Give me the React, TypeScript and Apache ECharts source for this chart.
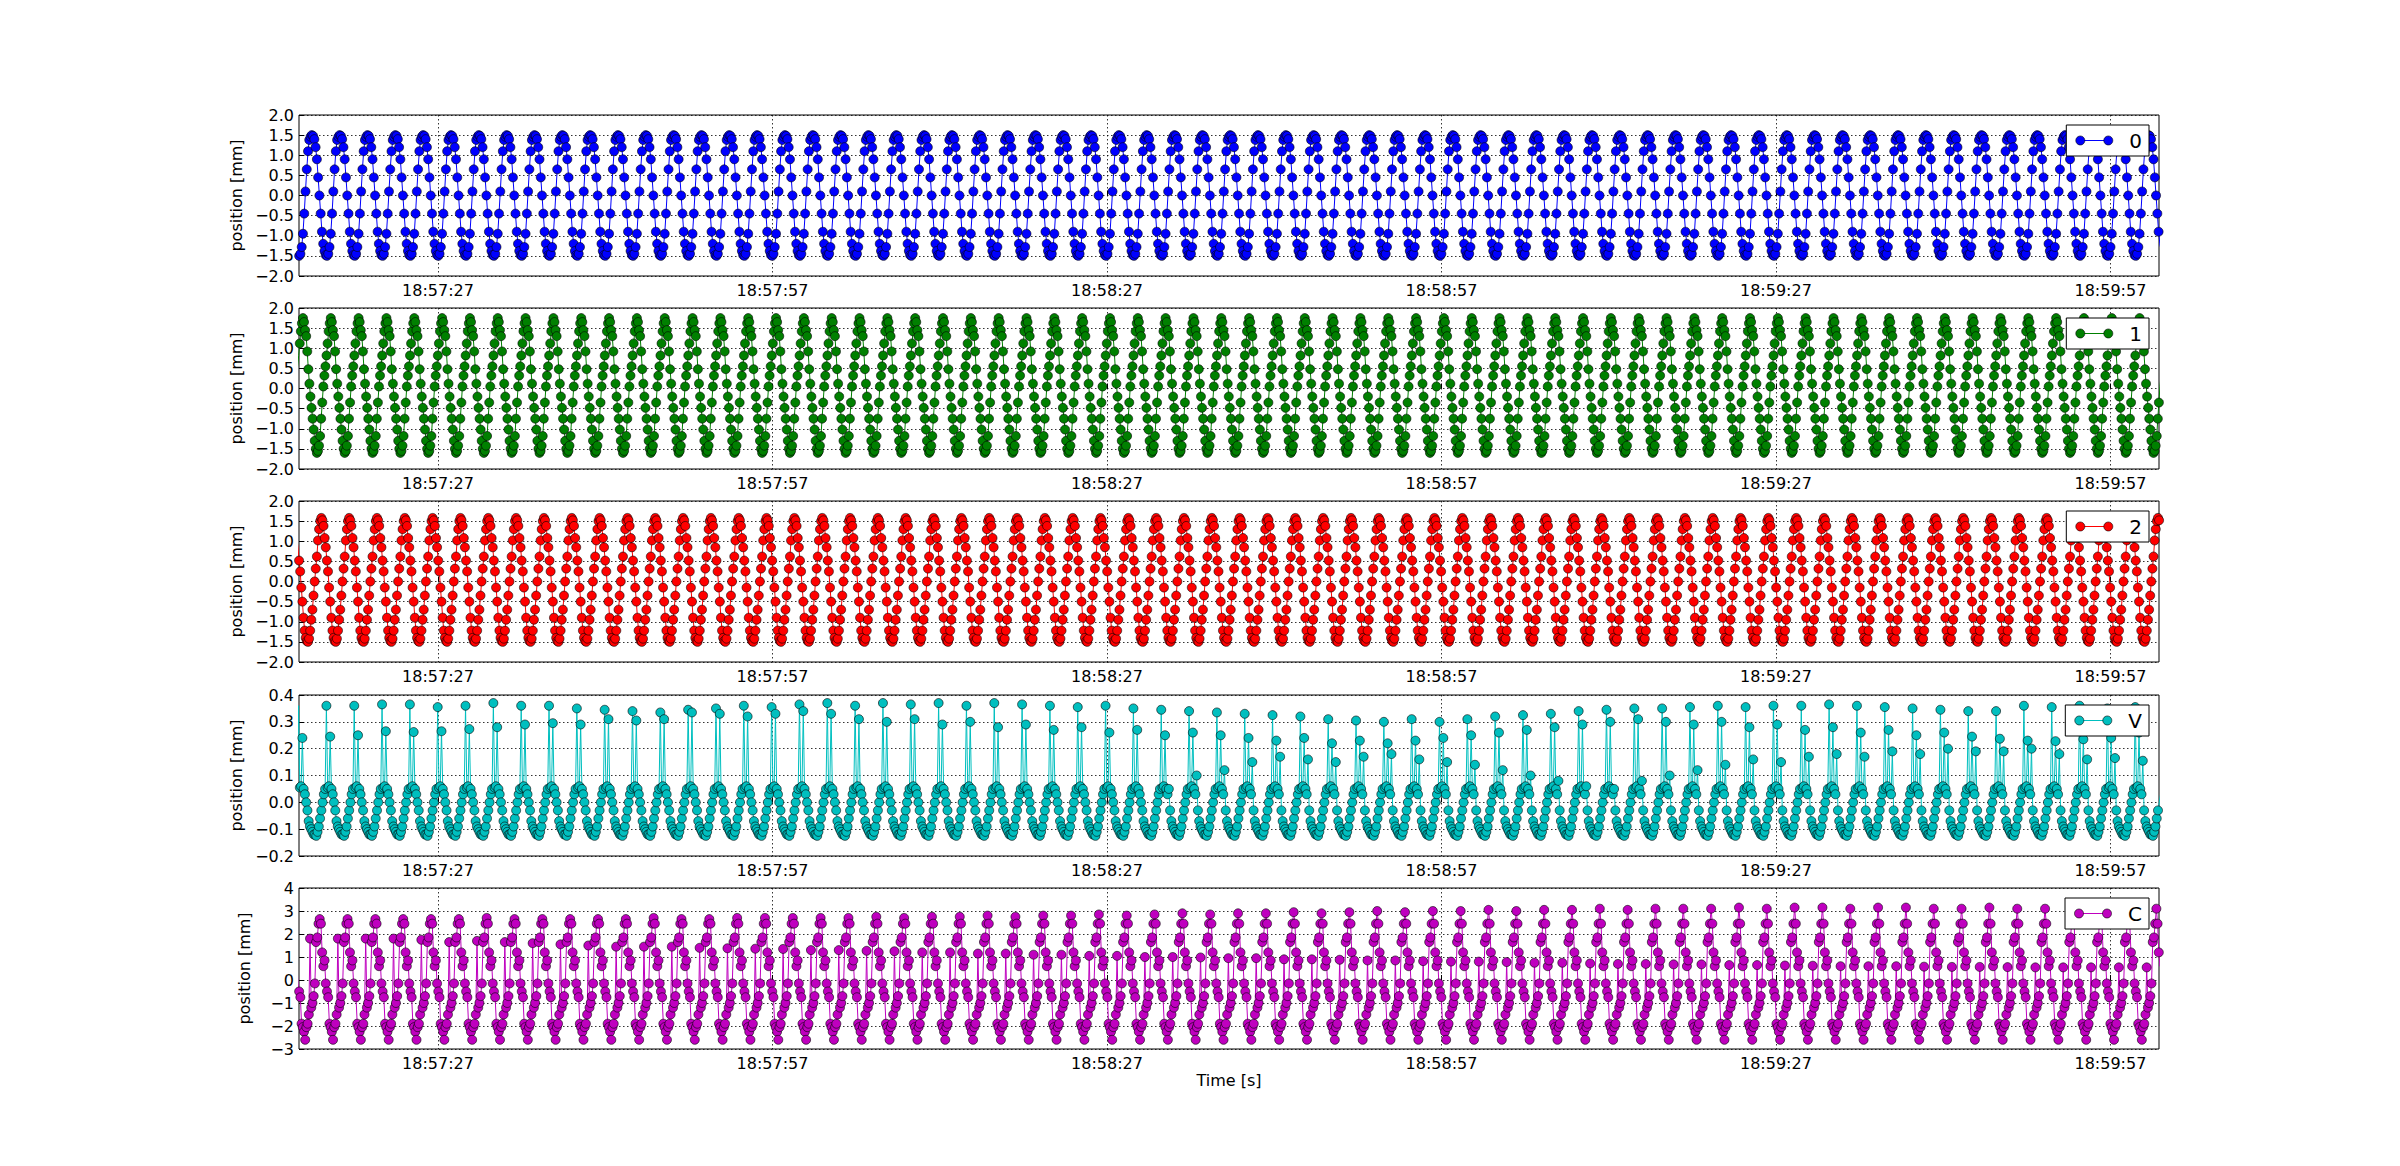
import React, { useEffect, useRef } from "react";
import * as echarts from "echarts";

// ---- axis / time (seconds since midnight) ----
const X_MIN = 68234.53; // 18:57:14.53
const X_MAX = 68401.36; // 19:00:01.36
const X_TICKS = [68247, 68277, 68307, 68337, 68367, 68397];
const PERIOD = 2.496; // seconds per oscillation cycle

const NAMES = ["0", "1", "2", "V", "C"];
const COLORS = ["#0000ff", "#008000", "#ff0000", "#00bfbf", "#bf00bf"];
const Y_MIN = [-2, -2, -2, -0.2, -3];
const Y_MAX = [2, 2, 2, 0.4, 4];
const Y_STEP = [0.5, 0.5, 0.5, 0.1, 1];
const Y_DEC = [1, 1, 1, 1, 0];

// ---- one cycle of samples (mm) ----
const cycle0 = [1.46, 1.5, 1.48, 1.4, 1.2, 0.9, 0.45, 0.0, -0.45, -0.9, -1.2, -1.38, -1.48, -1.5, -1.45, -1.28, -0.95, -0.45, 0.1, 0.65, 1.1, 1.38];
const start0 = 68233.07;
const cycle1 = [1.75, 1.65, 1.45, 1.3, 0.92, 0.48, 0.12, -0.2, -0.48, -0.75, -1.02, -1.3, -1.5, -1.6, -1.55, -1.42, -1.18, -0.75, -0.35, 0.05, 0.32, 0.55, 0.82, 1.12, 1.42, 1.62];
const start1 = 68232.39;
const cycle2 = [1.58, 1.52, 1.38, 1.08, 0.85, 0.52, 0.25, -0.15, -0.5, -0.9, -1.22, -1.4, -1.48, -1.5, -1.42, -1.22, -0.95, -0.7, -0.35, 0.0, 0.32, 0.62, 1.02, 1.3, 1.5];
const start2 = 68231.54;
// V: null slots are the spikes (S1, S2, S3) given per cycle below
const cycleV = [-0.12, -0.125, -0.11, -0.09, -0.06, -0.03, 0.0, 0.03, 0.05, null, 0.055, 0.06, null, 0.05, 0.03, null, -0.03, -0.07, -0.09, -0.1, -0.11, -0.12];
const startV = 68233.47;
const vSpike1 = [0.36, 0.36, 0.36, 0.365, 0.365, 0.355, 0.36, 0.37, 0.36, 0.36, 0.35, 0.345, 0.34, 0.335, 0.345,
  0.35, 0.36, 0.355, 0.365, 0.37, 0.36, 0.37, 0.365, 0.37, 0.36, 0.37, 0.365, 0.36, 0.355, 0.36, 0.35, 0.345, 0.34, 0.335,
  0.33, 0.325, 0.32, 0.31, 0.305, 0.3, 0.31, 0.3, 0.31, 0.32, 0.325,
  0.33, 0.34, 0.345, 0.35, 0.35, 0.355, 0.36, 0.355, 0.36, 0.36, 0.365, 0.36, 0.355, 0.35, 0.345, 0.34, 0.34, 0.36, 0.355, 0.36, 0.35, 0.355, 0.36, 0.35, 0.35];
const vSpike2 = [0.24, 0.245, 0.25, 0.265, 0.262, 0.265, 0.273, 0.28, 0.29, 0.295, 0.29, 0.31, 0.305, 0.31, 0.335,
  0.33, 0.32, 0.33, 0.34, 0.33, 0.31, 0.3, 0.31, 0.29, 0.3, 0.28, 0.29, 0.27, 0.28, 0.26, 0.27, 0.25, 0.26, 0.25,
  0.24, 0.23, 0.24, 0.22, 0.23, 0.22, 0.23, 0.24, 0.25, 0.26, 0.27,
  0.28, 0.29, 0.3, 0.31, 0.3, 0.29, 0.3, 0.28, 0.29, 0.27, 0.28, 0.26, 0.27, 0.25, 0.26, 0.245, 0.237, 0.23, 0.228, 0.235, 0.24, 0.26, 0.25, 0.25, 0.25];
const vSpike3 = [0, 0, 0, 0, 0, 0, 0, 0, 0, 0, 0, 0, 0, 0, 0, 0, 0, 0, 0, 0, 0, 0, 0, 0, 0, 0, 0, 0, 0, 0,
  0.0, 0.05, 0.1, 0.12, 0.15, 0.17, 0.16, 0.15, 0.17, 0.18, 0.16, 0.15, 0.14, 0.12, 0.1,
  0.08, 0.06, 0.05, 0.08, 0.1, 0.12, 0.14, 0.16, 0.15, 0.17, 0.18, 0.17, 0.19, 0.18, 0.2, 0.19, 0.19, 0.2, 0.18, 0.16, 0.165, 0.155, 0.16, 0.16, 0.16];
// C: null slots are the first spike (index 4) and the peak (index 12)
const cycleC = [-2.6, -2.05, -1.9, -1.5, null, -1.2, -1.0, -0.7, -0.15, 1.65, 1.85, 2.45, null, 2.45, 1.2, 0.6, 0.85, -0.15, -0.5, -0.75, -1.9, -2.05, -2.25];
const startC = 68232.59;
const cPeak = [2.65, 2.65, 2.65, 2.65, 2.65, 2.65, 2.65, 2.7, 2.65, 2.65, 2.65, 2.65, 2.65, 2.7, 2.65, 2.65, 2.7, 2.7, 2.7, 2.7,
  2.7, 2.75, 2.7, 2.75, 2.75, 2.8, 2.75, 2.8, 2.8, 2.85, 2.8, 2.85, 2.9, 2.85, 2.9,
  2.9, 2.95, 2.9, 2.95, 3.0, 2.95, 3.0, 3.0, 3.05, 3.0, 3.05, 3.05, 3.1, 3.05, 3.1,
  3.1, 3.1, 3.15, 3.1, 3.15, 3.15, 3.1, 3.15, 3.15, 3.1, 3.1, 3.15, 3.1, 3.1, 3.15, 3.1, 3.1, 3.1, 3.1, 3.1];
const cSpike = [1.8, 1.8, 1.8, 1.8, 1.8, 1.75, 1.65, 1.7, 1.65, 1.6, 1.55, 1.5, 1.45, 1.45, 1.45, 1.4,
  1.38, 1.36, 1.35, 1.3, 1.3, 1.27, 1.25, 1.2, 1.2, 1.15, 1.15, 1.1, 1.1, 1.05,
  1.05, 1.0, 1.0, 0.98, 0.95, 0.95, 0.9, 0.9, 0.88, 0.85, 0.85, 0.82, 0.8, 0.8, 0.78, 0.75, 0.75, 0.72, 0.7, 0.7,
  0.68, 0.68, 0.65, 0.65, 0.63, 0.62, 0.6, 0.6, 0.6, 0.58, 0.57, 0.57, 0.56, 0.55, 0.55, 0.55, 0.55, 0.55, 0.55, 0.55];

const pick = (arr: number[], k: number) => arr[Math.min(k, arr.length - 1)];

function build(cycle: (number | null)[], start: number, fill?: (k: number, i: number) => number) {
  const out: [number, number][] = [];
  const dt = PERIOD / cycle.length;
  for (let k = 0; ; k++) {
    for (let i = 0; i < cycle.length; i++) {
      const t = start + k * PERIOD + i * dt;
      if (t > X_MAX + 0.5) return out;
      const v = cycle[i];
      out.push([t, v === null ? (fill ? fill(k, i) : 0) : v]);
    }
  }
}

const DATA = [
  build(cycle0, start0),
  build(cycle1, start1),
  build(cycle2, start2),
  build(cycleV, startV, (k, i) => (i === 9 ? pick(vSpike1, k) : i === 12 ? pick(vSpike2, k) : pick(vSpike3, k))),
  build(cycleC, startC, (k, i) => (i === 4 ? pick(cSpike, k) : pick(cPeak, k))),
];

const TOPS = [115, 308, 501, 695, 888];
const HEIGHT = 161;
const LEFT = 299;
const RIGHT_EDGE = 2159;
const FONT = "DejaVu Sans";

const fmtTime = (v: number) => {
  const s = Math.round(v);
  const h = Math.floor(s / 3600);
  const m = Math.floor((s % 3600) / 60);
  const sec = s % 60;
  const p = (n: number) => String(n).padStart(2, "0");
  return `${p(h)}:${p(m)}:${p(sec)}`;
};

export default function App() {
  const ref = useRef<HTMLDivElement>(null);
  useEffect(() => {
    if (!ref.current) return;
    const chart = echarts.init(ref.current, undefined, { renderer: "svg" });
    const grids = TOPS.map((top) => ({
      left: LEFT,
      top,
      width: RIGHT_EDGE - LEFT,
      height: HEIGHT,
      show: true,
      borderColor: "#000",
      borderWidth: 1,
      backgroundColor: "#fff",
    }));
    const gridLine = { show: true, lineStyle: { color: "#000", width: 0.8, type: [1.5, 2.5] } };
    const xAxes = TOPS.map((_, i) => ({
      type: "value",
      gridIndex: i,
      min: X_MIN,
      max: X_MAX,
      axisLine: { show: false },
      axisTick: { show: true, inside: true, length: 5, customValues: X_TICKS, lineStyle: { color: "#000" } },
      axisLabel: {
        show: true,
        customValues: X_TICKS,
        formatter: fmtTime,
        color: "#000",
        fontSize: 16,
        fontFamily: FONT,
        margin: 6,
      },
      splitLine: gridLine,
      name: i === 4 ? "Time [s]" : "",
      nameLocation: "middle",
      nameGap: 23,
      nameTextStyle: { color: "#000", fontSize: 16, fontFamily: FONT },
    }));
    const yAxes = TOPS.map((_, i) => ({
      type: "value",
      gridIndex: i,
      min: Y_MIN[i],
      max: Y_MAX[i],
      interval: Y_STEP[i],
      axisLine: { show: false },
      axisTick: { show: true, inside: true, length: 5, lineStyle: { color: "#000" } },
      axisLabel: {
        color: "#000",
        fontSize: 16,
        fontFamily: FONT,
        margin: 5,
        formatter: (v: number) => {
          const r = Math.abs(v) < 1e-9 ? 0 : v;
          return r.toFixed(Y_DEC[i]).replace("-", "\u2212");
        },
      },
      splitLine: gridLine,
      name: "position [mm]",
      nameLocation: "middle",
      nameGap: 47,
      nameRotate: 90,
      nameTextStyle: { color: "#000", fontSize: 16, fontFamily: FONT },
    }));
    const series = DATA.map((d, i) => ({
      type: "line",
      name: NAMES[i],
      xAxisIndex: i,
      yAxisIndex: i,
      data: d,
      symbol: "circle",
      symbolSize: 9,
      showSymbol: true,
      showAllSymbol: true,
      clip: true,
      silent: true,
      lineStyle: { color: COLORS[i], width: 1 },
      itemStyle: { color: COLORS[i], borderColor: "#000", borderWidth: 0.6 },
      emphasis: { disabled: true },
    }));
    const charW: Record<string, number> = { "0": 12.7, "1": 12.7, "2": 12.7, V: 13.7, C: 14 };
    const graphic: any[] = [];
    TOPS.forEach((top, i) => {
      const boxRight = 2149;
      const textRight = 2142;
      const textLeft = textRight - charW[NAMES[i]];
      const x1 = textLeft - 49;
      const x2 = x1 + 28;
      const boxLeft = x1 - 14;
      const y0 = top + 10;
      const cy = y0 + 15.5;
      graphic.push(
        { type: "rect", shape: { x: boxLeft, y: y0, width: boxRight - boxLeft, height: 31 }, style: { fill: "#fff", stroke: "#000", lineWidth: 1 }, z: 100 },
        { type: "line", shape: { x1, y1: cy, x2, y2: cy }, style: { stroke: COLORS[i], lineWidth: 1 }, z: 101 },
        { type: "circle", shape: { cx: x1, cy, r: 4.5 }, style: { fill: COLORS[i], stroke: "#000", lineWidth: 0.6 }, z: 102 },
        { type: "circle", shape: { cx: x2, cy, r: 4.5 }, style: { fill: COLORS[i], stroke: "#000", lineWidth: 0.6 }, z: 102 },
        { type: "text", x: textRight, y: cy, style: { text: NAMES[i], fill: "#000", font: `20px "${FONT}"`, align: "right", verticalAlign: "middle" }, z: 102 }
      );
    });
    chart.setOption({
      animation: false,
      backgroundColor: "#fff",
      grid: grids,
      xAxis: xAxes,
      yAxis: yAxes,
      series,
      graphic,
    });
    return () => chart.dispose();
  }, []);
  return (
    <div
      ref={ref}
      style={{ position: "fixed", left: 0, top: 0, width: 2400, height: 1166, background: "#fff" }}
    />
  );
}
